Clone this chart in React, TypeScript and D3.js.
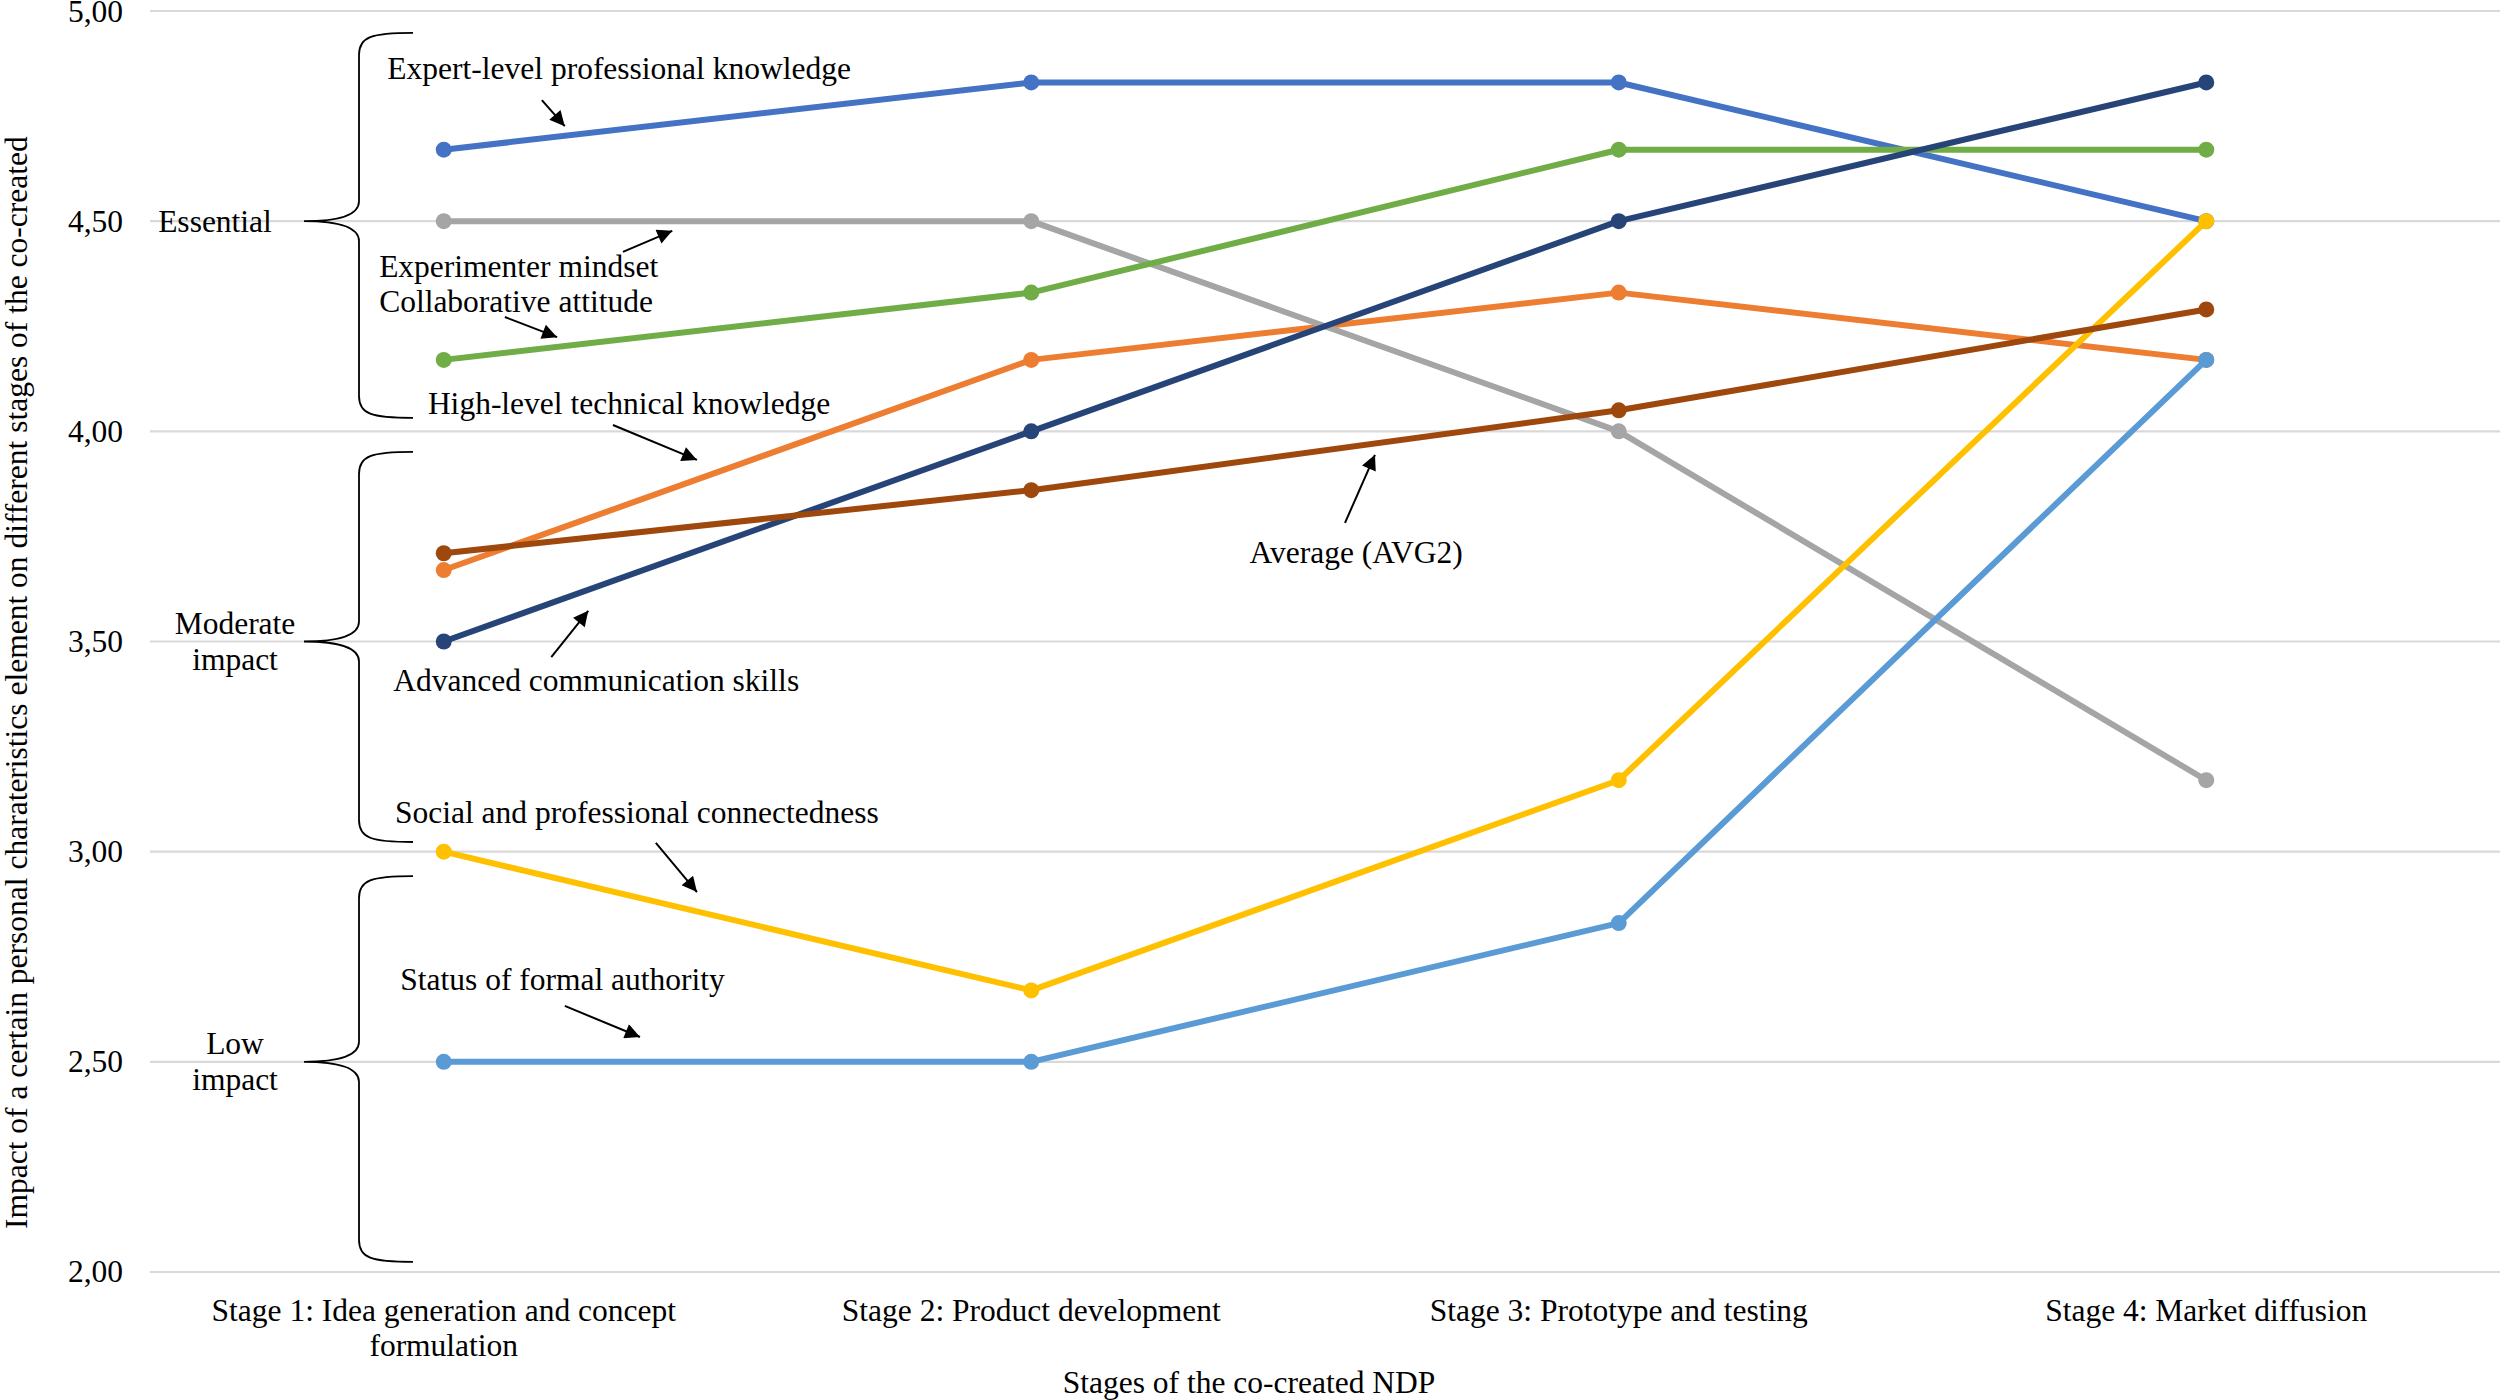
import * as d3 from 'd3'

const WIDTH = 2500
const HEIGHT = 1400
const MARGIN = { top: 11, right: 0, bottom: 128, left: 150 }
const FONT = '"Liberation Serif", "Times New Roman", serif'
const FONT_SIZE = 31.5

const STAGES = ['Stage 1', 'Stage 2', 'Stage 3', 'Stage 4']
const STAGE_LABELS = [
  ['Stage 1: Idea generation and concept', 'formulation'],
  ['Stage 2: Product development'],
  ['Stage 3: Prototype and testing'],
  ['Stage 4: Market diffusion'],
]
const Y_TICKS = [2, 2.5, 3, 3.5, 4, 4.5, 5]

// series in Excel drawing order (later ones on top)
const SERIES_NAMES = [
  'Expert-level professional knowledge',
  'High-level technical knowledge',
  'Experimenter mindset',
  'Social and professional connectedness',
  'Status of formal authority',
  'Collaborative attitude',
  'Advanced communication skills',
  'Average (AVG2)',
]
const SERIES_COLORS = ['#4472C4', '#ED7D31', '#A5A5A5', '#FFC000', '#5B9BD5', '#70AD47', '#264478', '#9E480E']
const SERIES_VALUES = [
  [4.67, 4.83, 4.83, 4.5],
  [3.67, 4.17, 4.33, 4.17],
  [4.5, 4.5, 4.0, 3.17],
  [3.0, 2.67, 3.17, 4.5],
  [2.5, 2.5, 2.83, 4.17],
  [4.17, 4.33, 4.67, 4.67],
  [3.5, 4.0, 4.5, 4.83],
  [3.71, 3.86, 4.05, 4.29],
]

// brace groups: label lines, tip value, top value, bottom value
const BRACE_LABELS = [['Essential'], ['Moderate', 'impact'], ['Low', 'impact']]
const BRACE_VALUES = [
  [4.5, 4.948, 4.032],
  [3.5, 3.951, 3.023],
  [2.5, 2.942, 2.024],
]

// annotation text, position in (stage index, value) space
const NOTE_TEXTS = [
  'Expert-level professional knowledge',
  'Experimenter mindset',
  'Collaborative attitude',
  'High-level technical knowledge',
  'Advanced communication skills',
  'Social and professional connectedness',
  'Status of formal authority',
  'Average (AVG2)',
]
const NOTE_POS = [
  [-0.096, 4.862],
  [-0.11, 4.391],
  [-0.11, 4.308],
  [-0.027, 4.067],
  [-0.086, 3.408],
  [-0.083, 3.094],
  [-0.074, 2.695],
  [1.553, 3.711],
]
// arrows: [fromStage, fromValue, toStage, toValue]
const ARROWS = [
  [0.167, 4.788, 0.206, 4.726],
  [0.305, 4.427, 0.389, 4.477],
  [0.104, 4.272, 0.193, 4.224],
  [0.288, 4.015, 0.431, 3.932],
  [0.183, 3.463, 0.246, 3.573],
  [0.361, 3.021, 0.431, 2.904],
  [0.206, 2.633, 0.334, 2.559],
  [1.534, 3.782, 1.585, 3.944],
]

const commaFormat = d3.formatLocale({
  decimal: ',',
  thousands: '.',
  grouping: [3],
  currency: ['', ''],
}).format('.2f')

export default function App() {
  const x = d3
    .scaleBand<string>()
    .domain(STAGES)
    .range([MARGIN.left, WIDTH - MARGIN.right])
  const y = d3
    .scaleLinear()
    .domain([2, 5])
    .range([HEIGHT - MARGIN.bottom, MARGIN.top])
  const centre = (s: string) => (x(s) ?? 0) + x.bandwidth() / 2
  const xs = d3
    .scaleLinear()
    .domain([0, STAGES.length - 1])
    .range([centre(STAGES[0]), centre(STAGES[STAGES.length - 1])])

  const line = d3
    .line<number>()
    .x((_, i) => centre(STAGES[i]))
    .y((v) => y(v))

  const braceTip = 304
  const braceSpine = 359
  const braceEnd = 413
  const bracePath = (tip: number, top: number, bot: number) => {
    const t = y(top)
    const m = y(tip)
    const b = y(bot)
    return [
      `M${braceEnd},${t}`,
      `C${braceSpine + 12},${t} ${braceSpine},${t + 4} ${braceSpine},${t + 22}`,
      `L${braceSpine},${m - 20}`,
      `C${braceSpine},${m - 6} ${braceSpine - 20},${m} ${braceTip},${m}`,
      `C${braceSpine - 20},${m} ${braceSpine},${m + 6} ${braceSpine},${m + 20}`,
      `L${braceSpine},${b - 22}`,
      `C${braceSpine},${b - 4} ${braceSpine + 12},${b} ${braceEnd},${b}`,
    ].join(' ')
  }

  return (
    <div>
      <style>{'body{margin:0}'}</style>
      <svg width={WIDTH} height={HEIGHT} viewBox={`0 0 ${WIDTH} ${HEIGHT}`} style={{ display: 'block', background: '#fff' }} fontFamily={FONT} fontSize={FONT_SIZE}>
        <defs>
          <marker id="arrowhead" viewBox="0 0 10 10" refX="10" refY="5" markerUnits="userSpaceOnUse" markerWidth="20" markerHeight="15" orient="auto">
            <path d="M0,0 L10,5 L0,10 z" fill="#000" />
          </marker>
        </defs>

        {Y_TICKS.map((t) => (
          <g key={t}>
            <line x1={MARGIN.left} x2={WIDTH - MARGIN.right} y1={y(t)} y2={y(t)} stroke="#d9d9d9" strokeWidth={2.2} />
            <text x={123} y={y(t)} dy={t === 5 ? '0.36em' : '0.33em'} textAnchor="end" fill="#000">
              {commaFormat(t)}
            </text>
          </g>
        ))}

        {STAGE_LABELS.map((lines, i) => (
          <text key={i} x={centre(STAGES[i])} y={1321} textAnchor="middle" fill="#000">
            {lines.map((l, j) => (
              <tspan key={j} x={centre(STAGES[i])} dy={j === 0 ? 0 : 35}>
                {l}
              </tspan>
            ))}
          </text>
        ))}

        <text x={1249} y={1393} textAnchor="middle" fill="#000">
          Stages of the co-created NDP
        </text>
        <text transform="translate(27,1229) rotate(-90)" textAnchor="start" fill="#000">
          Impact of a certain personal charateristics element on different stages of the co-created
        </text>

        {SERIES_VALUES.map((vals, si) => (
          <g key={SERIES_NAMES[si]}>
            <path d={line(vals) ?? undefined} fill="none" stroke={SERIES_COLORS[si]} strokeWidth={6} strokeLinejoin="round" />
            {vals.map((v, i) => (
              <circle key={i} cx={centre(STAGES[i])} cy={y(v)} r={8} fill={SERIES_COLORS[si]} />
            ))}
          </g>
        ))}

        {BRACE_VALUES.map(([tip, top, bot], i) => (
          <g key={i}>
            <path d={bracePath(tip, top, bot)} fill="none" stroke="#000" strokeWidth={1.8} />
            <text textAnchor="middle" fill="#000">
              {BRACE_LABELS[i].map((l, j) => (
                <tspan
                  key={j}
                  x={i === 0 ? 215 : 235}
                  y={y(tip) + (j - (BRACE_LABELS[i].length - 1) / 2) * 36}
                  dy="0.33em"
                >
                  {l}
                </tspan>
              ))}
            </text>
          </g>
        ))}

        {NOTE_TEXTS.map((t, i) => (
          <text
            key={t}
            x={xs(NOTE_POS[i][0])}
            y={y(NOTE_POS[i][1])}
            dy="0.33em"
            textAnchor={i === NOTE_TEXTS.length - 1 ? 'middle' : 'start'}
            fill="#000"
          >
            {t}
          </text>
        ))}

        {ARROWS.map(([s0, v0, s1, v1], i) => (
          <line key={i} x1={xs(s0)} y1={y(v0)} x2={xs(s1)} y2={y(v1)} stroke="#000" strokeWidth={2} markerEnd="url(#arrowhead)" />
        ))}
      </svg>
    </div>
  )
}
